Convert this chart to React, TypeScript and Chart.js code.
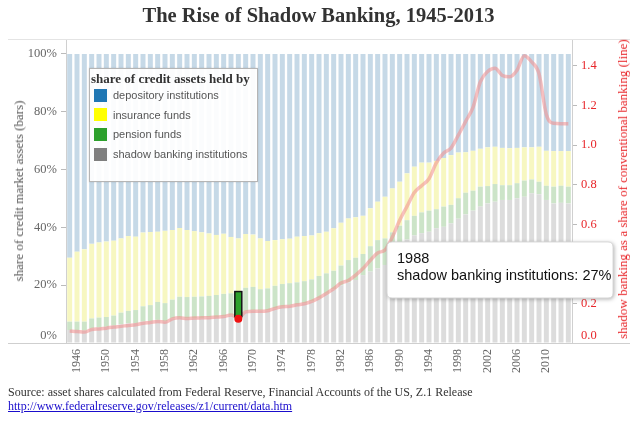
import React, { useEffect, useRef } from "react";
import { Chart, registerables } from "chart.js";

Chart.register(...registerables);

const years = [
  "1945", "1946", "1947", "1948", "1949", "1950", "1951", "1952", "1953", "1954",
  "1955", "1956", "1957", "1958", "1959", "1960", "1961", "1962", "1963", "1964",
  "1965", "1966", "1967", "1968", "1969", "1970", "1971", "1972", "1973", "1974",
  "1975", "1976", "1977", "1978", "1979", "1980", "1981", "1982", "1983", "1984",
  "1985", "1986", "1987", "1988", "1989", "1990", "1991", "1992", "1993", "1994",
  "1995", "1996", "1997", "1998", "1999", "2000", "2001", "2002", "2003", "2004",
  "2005", "2006", "2007", "2008", "2009", "2010", "2011", "2012", "2013",
];

const shadowShare = [
  4.5, 4.5, 4.3, 5.0, 5.3, 5.6, 6.0, 6.5, 6.8, 6.9,
  7.4, 7.6, 8.0, 7.5, 8.5, 8.7, 8.5, 8.5, 8.6, 8.8,
  9.0, 9.2, 9.6, 9.1, 11.0, 11.3, 11.2, 11.3, 11.9, 12.5,
  13.0, 13.5, 13.8, 14.3, 15.5, 17.0, 18.5, 20.0, 21.0, 21.8,
  23.5, 24.7, 25.8, 27.0, 30.5, 33.3, 35.8, 37.2, 38.0, 38.5,
  39.7, 40.2, 41.4, 43.0, 44.5, 45.8, 47.2, 48.3, 48.9, 49.5,
  49.5, 50.1, 50.6, 51.8, 51.5, 49.5, 48.3, 48.5, 48.3,
];

const pensionShare = [
  2.9, 2.9, 3.1, 3.5, 3.5, 3.4, 3.5, 4.0, 4.3, 4.5,
  5.3, 5.5, 6.2, 6.3, 6.5, 7.3, 7.4, 7.5, 7.5, 7.5,
  7.6, 7.8, 7.6, 8.7, 8.1, 8.1, 7.4, 7.6, 7.9, 7.9,
  7.7, 7.5, 7.6, 7.7, 7.7, 7.1, 6.5, 6.8, 7.7, 7.7,
  7.3, 8.8, 9.8, 9.2, 7.8, 7.3, 6.7, 6.8, 7.2, 7.3,
  6.6, 7.0, 6.4, 7.1, 7.5, 6.9, 6.9, 6.0, 6.1, 5.1,
  5.1, 5.2, 5.6, 4.8, 4.3, 4.9, 5.8, 5.9, 5.8,
];

const insuranceShare = [
  22.1, 24.2, 25.0, 25.8, 26.0, 26.1, 25.9, 25.7, 25.9, 25.4,
  25.5, 25.3, 24.3, 25.0, 24.1, 23.8, 23.2, 22.7, 22.2, 21.6,
  20.8, 20.8, 19.5, 18.4, 18.6, 18.1, 17.6, 16.4, 15.8, 15.5,
  15.4, 15.8, 15.6, 15.2, 14.8, 14.4, 14.7, 14.8, 14.4, 14.0,
  13.2, 13.1, 13.3, 14.4, 15.2, 15.2, 16.2, 17.0, 17.2, 16.6,
  16.7, 16.8, 17.2, 15.8, 14.0, 13.8, 13.1, 13.4, 12.9, 12.9,
  12.8, 12.2, 11.5, 11.1, 12.1, 12.1, 12.3, 12.0, 12.3,
];

const depositoryShare = [
  70.5, 68.4, 67.6, 65.7, 65.2, 64.9, 64.6, 63.8, 63.0, 63.2,
  61.8, 61.6, 61.5, 61.2, 60.9, 60.2, 60.9, 61.3, 61.7, 62.1,
  62.6, 62.2, 63.3, 63.8, 62.3, 62.5, 63.8, 64.7, 64.4, 64.1,
  63.9, 63.2, 63.0, 62.8, 62.0, 61.5, 60.3, 58.4, 56.9, 56.5,
  56.0, 53.4, 51.1, 49.4, 46.5, 44.2, 41.3, 39.0, 37.6, 37.6,
  37.0, 36.0, 35.0, 34.1, 34.0, 33.5, 32.8, 32.3, 32.1, 32.5,
  32.6, 32.5, 32.3, 32.3, 32.1, 33.5, 33.6, 33.6, 33.6,
];

const shadowToConventional = [
  0.06, 0.058, 0.055, 0.068, 0.071, 0.075, 0.081, 0.084, 0.089, 0.092,
  0.1, 0.104, 0.109, 0.105, 0.122, 0.127, 0.124, 0.126, 0.127, 0.128,
  0.131, 0.134, 0.141, 0.128, 0.157, 0.161, 0.16, 0.163, 0.175, 0.183,
  0.185, 0.193, 0.198, 0.21, 0.228, 0.25, 0.274, 0.303, 0.316, 0.343,
  0.376, 0.418, 0.455, 0.47, 0.535, 0.62, 0.69, 0.76, 0.795, 0.83,
  0.91, 0.96, 0.985, 1.05, 1.12, 1.19, 1.32, 1.372, 1.388, 1.352,
  1.345, 1.378, 1.452, 1.42, 1.36, 1.155, 1.11, 1.108, 1.108,
];

const leftTicks = [0, 20, 40, 60, 80, 100];
const rightTicks = [0, 0.2, 0.4, 0.6, 0.8, 1.0, 1.2, 1.4];
const xTickYears = [
  "1946", "1950", "1954", "1958", "1962", "1966", "1970", "1974", "1978",
  "1982", "1986", "1990", "1994", "1998", "2002", "2006", "2010",
];

const seriesNames = [
  "depository institutions",
  "insurance funds",
  "pension funds",
  "shadow banking institutions",
];
const seriesColors = ["#1f77b4", "#ffff00", "#2ca02c", "#7f7f7f"];
const seriesFaded = ["#c6d9e7", "#f7f7c1", "#cce4c8", "#dcdcdc"];

const highlightYear = "1968";
const tooltipYear = "1988";

const titleText = "The Rise of Shadow Banking, 1945-2013";
const leftAxisTitle = "share of credit market assets (bars)";
const rightAxisTitle = "shadow banking as a share of conventional banking (line)";
const legendTitle = "share of credit assets held by";
const sourceText =
  "Source: asset shares calculated from Federal Reserve, Financial Accounts of the US, Z.1 Release";
const sourceUrl = "http://www.federalreserve.gov/releases/z1/current/data.htm";

const SERIF = "'Liberation Serif', 'Times New Roman', serif";
const SANS = "'Liberation Sans', Arial, sans-serif";
const RED = "#e8262a";
const TICK_FONT = `12.5px ${SERIF}`;

const decorPlugin = {
  id: "decor",
  afterDatasetsDraw(chart: any) {
    const { ctx, chartArea, scales } = chart;
    ctx.save();
    // frame lines
    ctx.lineWidth = 1;
    ctx.strokeStyle = "#e4e4e4";
    ctx.beginPath();
    ctx.moveTo(8, Math.round(chartArea.top) + 0.5);
    ctx.lineTo(630, Math.round(chartArea.top) + 0.5);
    ctx.stroke();
    ctx.strokeStyle = "#cfcfcf";
    ctx.beginPath();
    ctx.moveTo(8, Math.round(chartArea.bottom) + 0.5);
    ctx.lineTo(630, Math.round(chartArea.bottom) + 0.5);
    ctx.stroke();

    // zero labels (sit just above the axis line)
    ctx.font = TICK_FONT;
    ctx.textBaseline = "middle";
    ctx.textAlign = "right";
    ctx.fillStyle = "#666";
    ctx.fillText(`${leftTicks[0]}%`, scales.y.right - 9, scales.y.getPixelForValue(leftTicks[0]) - 7);
    ctx.textAlign = "left";
    ctx.fillStyle = RED;
    ctx.fillText(rightTicks[0].toFixed(1), scales.y1.left + 9, scales.y1.getPixelForValue(rightTicks[0]) - 7);

    // highlighted bar (pension funds in highlight year)
    const hiIdx = years.indexOf(highlightYear);
    const pensionMeta = chart.getDatasetMeta(2);
    const el = pensionMeta.data[hiIdx];
    if (el) {
      const bx = el.x - el.width / 2 - 1;
      const bw = el.width + 2;
      ctx.fillStyle = seriesColors[2];
      ctx.fillRect(bx, el.y, bw, el.base - el.y);
      ctx.strokeStyle = "#111";
      ctx.lineWidth = 1.5;
      ctx.strokeRect(bx, el.y, bw, el.base - el.y);
      const px = scales.x.getPixelForValue(hiIdx);
      const py = scales.y1.getPixelForValue(shadowToConventional[hiIdx]);
      ctx.fillStyle = "#ee1111";
      ctx.beginPath();
      ctx.arc(px, py + 1, 4, 0, Math.PI * 2);
      ctx.fill();
    }

    // tooltip box
    const idx = years.indexOf(tooltipYear);
    const x = scales.x.getPixelForValue(idx) + 2;
    const yv = scales.y.getPixelForValue(shadowShare[idx]);
    const w = 226;
    const h = 56;
    const top = yv - 23;
    const r = 5;
    ctx.shadowColor = "rgba(0,0,0,0.35)";
    ctx.shadowBlur = 4;
    ctx.shadowOffsetX = 1;
    ctx.shadowOffsetY = 1;
    ctx.fillStyle = "#ffffff";
    ctx.beginPath();
    ctx.moveTo(x + r, top);
    ctx.lineTo(x + w - r, top);
    ctx.quadraticCurveTo(x + w, top, x + w, top + r);
    ctx.lineTo(x + w, top + h - r);
    ctx.quadraticCurveTo(x + w, top + h, x + w - r, top + h);
    ctx.lineTo(x + r, top + h);
    ctx.quadraticCurveTo(x, top + h, x, top + h - r);
    ctx.lineTo(x, top + r);
    ctx.quadraticCurveTo(x, top, x + r, top);
    ctx.closePath();
    ctx.fill();
    ctx.shadowColor = "transparent";
    ctx.strokeStyle = "#d8d8d8";
    ctx.lineWidth = 1;
    ctx.stroke();
    ctx.fillStyle = "#111";
    ctx.font = `14.5px ${SANS}`;
    ctx.textBaseline = "alphabetic";
    ctx.textAlign = "left";
    ctx.fillText(tooltipYear, x + 10, top + 21.5);
    ctx.fillText(
      `${seriesNames[3]}: ${Math.round(shadowShare[idx])}%`,
      x + 10,
      top + 38.5
    );
    ctx.restore();
  },
};

function App() {
  const canvasRef = useRef<HTMLCanvasElement | null>(null);

  useEffect(() => {
    const canvas = canvasRef.current;
    if (!canvas) return;
    const barCommon = {
      type: "bar" as const,
      yAxisID: "y",
      barPercentage: 0.68,
      categoryPercentage: 1,
      order: 1,
      borderWidth: 0,
    };
    const chart = new Chart(canvas, {
      type: "bar",
      data: {
        labels: years,
        datasets: [
          {
            type: "line" as const,
            label: "ratio",
            data: shadowToConventional,
            yAxisID: "y1",
            borderColor: "rgba(242,140,140,0.55)",
            borderWidth: 3.5,
            cubicInterpolationMode: "monotone",
            pointRadius: 0,
            order: 0,
          } as any,
          {
            ...barCommon,
            label: seriesNames[3],
            data: shadowShare,
            backgroundColor: seriesFaded[3],
          },
          {
            ...barCommon,
            label: seriesNames[2],
            data: pensionShare,
            backgroundColor: seriesFaded[2],
          },
          {
            ...barCommon,
            label: seriesNames[1],
            data: insuranceShare,
            backgroundColor: seriesFaded[1],
          },
          {
            ...barCommon,
            label: seriesNames[0],
            data: depositoryShare,
            backgroundColor: seriesFaded[0],
          },
        ],
      },
      options: {
        responsive: false,
        animation: false,
        devicePixelRatio: 1,
        events: [],
        layout: { padding: { top: 39, left: 0, right: 0, bottom: 0 } },
        plugins: {
          legend: { display: false },
          tooltip: { enabled: false },
          title: { display: false },
        },
        scales: {
          x: {
            stacked: true,
            offset: true,
            grid: { display: false, drawTicks: false },
            border: { display: false },
            ticks: {
              autoSkip: false,
              minRotation: 90,
              maxRotation: 90,
              padding: 6,
              color: "#666",
              font: { family: SERIF, size: 12 },
              callback: (_v: any, i: number) =>
                xTickYears.includes(years[i]) ? years[i] : "",
            },
            afterFit: (s: any) => {
              s.height = 78;
            },
          },
          y: {
            stacked: true,
            position: "left",
            min: 0,
            max: 105.19,
            afterBuildTicks: (s: any) => {
              s.ticks = leftTicks.map((v) => ({ value: v }));
            },
            ticks: {
              color: "#666",
              padding: 4,
              font: { family: SERIF, size: 12.5 },
              callback: (v: any) => (v === leftTicks[0] ? "" : `${v}%`),
            },
            grid: { drawOnChartArea: false, tickLength: 5, color: "#bbb" },
            border: { color: "#d0d0d0" },
            afterFit: (s: any) => {
              s.width = 66;
            },
          },
          y1: {
            position: "right",
            min: 0,
            max: 1.536,
            afterBuildTicks: (s: any) => {
              s.ticks = rightTicks.map((v) => ({ value: v }));
            },
            ticks: {
              color: RED,
              padding: 4,
              font: { family: SERIF, size: 12.5 },
              callback: (v: any) =>
                Number(v) === rightTicks[0] ? "" : Number(v).toFixed(1),
            },
            grid: { drawOnChartArea: false, tickLength: 5, color: "#bbb" },
            border: { color: "#d0d0d0" },
            afterFit: (s: any) => {
              s.width = 65;
            },
          },
        },
      } as any,
      plugins: [decorPlugin],
    });
    return () => chart.destroy();
  }, []);

  const rotated = (
    text: string,
    cx: number,
    cy: number,
    color: string
  ): React.ReactElement => (
    <div
      style={{
        position: "absolute",
        left: cx,
        top: cy,
        transform: "translate(-50%, -50%) rotate(-90deg)",
        whiteSpace: "nowrap",
        fontFamily: SERIF,
        fontSize: 13,
        color,
      }}
    >
      {text}
    </div>
  );

  return (
    <div
      style={{
        position: "fixed",
        left: 0,
        top: 0,
        width: 637,
        height: 421,
        background: "#fff",
        overflow: "hidden",
      }}
    >
      <canvas
        ref={canvasRef}
        width={637}
        height={421}
        style={{ position: "absolute", left: 0, top: 0, width: 637, height: 421 }}
      />
      <div
        style={{
          position: "absolute",
          left: 0,
          top: 4,
          width: 637,
          textAlign: "center",
          fontFamily: SERIF,
          fontWeight: "bold",
          fontSize: 20.5,
          color: "#333",
        }}
      >
        {titleText}
      </div>
      {rotated(leftAxisTitle, 19, 191, "#555")}
      {rotated(rightAxisTitle, 623, 189, RED)}
      <div
        style={{
          position: "absolute",
          left: 89,
          top: 68,
          width: 167,
          height: 112,
          background: "rgba(255,255,255,0.92)",
          border: "1px solid #b5b5b5",
          boxShadow: "0 0 2px rgba(0,0,0,0.15)",
        }}
      >
        <div
          style={{
            position: "absolute",
            left: 1,
            top: 2,
            fontFamily: SERIF,
            fontWeight: "bold",
            fontSize: 13,
            color: "#333",
            whiteSpace: "nowrap",
          }}
        >
          {legendTitle}
        </div>
        {seriesNames.map((name, i) => (
          <div
            key={name}
            style={{
              position: "absolute",
              left: 4,
              top: 19 + i * 19.7,
              height: 14,
              display: "flex",
              alignItems: "center",
              whiteSpace: "nowrap",
            }}
          >
            <span
              style={{
                display: "inline-block",
                width: 13,
                height: 13,
                background: seriesColors[i],
                marginRight: 6,
              }}
            />
            <span style={{ fontFamily: SANS, fontSize: 11, color: "#555" }}>
              {name}
            </span>
          </div>
        ))}
      </div>
      <div
        style={{
          position: "absolute",
          left: 8,
          top: 385,
          fontFamily: SERIF,
          fontSize: 12,
          lineHeight: "14px",
          color: "#333",
          whiteSpace: "nowrap",
        }}
      >
        <div>{sourceText}</div>
        <a href={sourceUrl} style={{ color: "#1a0dcc", textDecoration: "underline" }}>
          {sourceUrl}
        </a>
      </div>
    </div>
  );
}

export default App;
